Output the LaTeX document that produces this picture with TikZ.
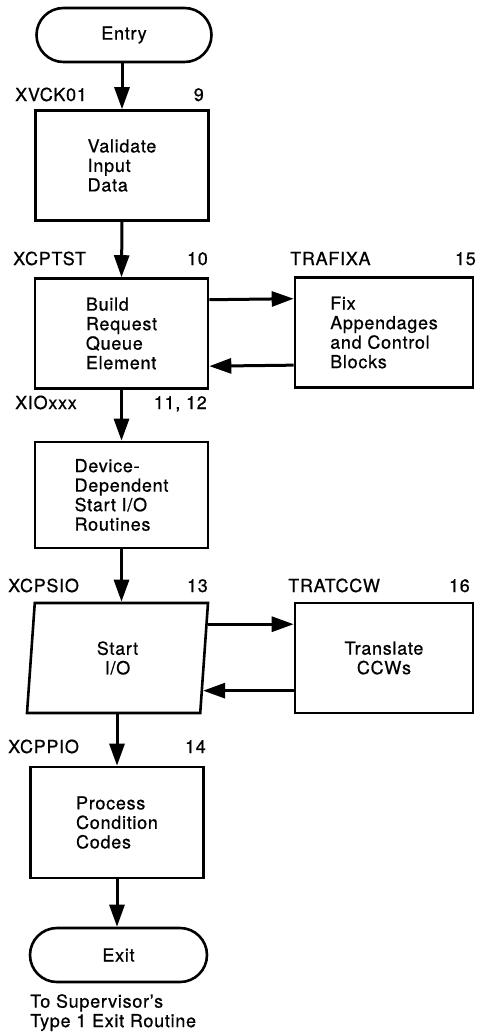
\documentclass[tikz,border=0pt]{standalone}
\usepackage{fontspec}
\setmainfont{TeX Gyre Heros}[LetterSpace=4,FakeBold=0.7]
\usetikzlibrary{arrows.meta,shapes.geometric,calc}
\tikzset{
  testo/.style={font=\fontsize{18}{19.5}\selectfont},
  blocco/.style={testo,draw,line width=2.6pt,align=left,minimum width=173pt,minimum height=110pt},
  term/.style={testo,draw,line width=2.6pt,rounded corners=27pt,minimum width=175pt,minimum height=54pt},
  lbl/.style={testo,inner sep=0pt},
  flow/.style={line width=3pt,-{Triangle[length=22pt,width=15pt]}}
}
\begin{document}
\begin{tikzpicture}[x=1pt,y=-1pt]
    \useasboundingbox (0,0) rectangle (477,1033);
    %terminale entry
    \node[term] (entry) at (124,35) {Entry};
    %blocco validate
    \node[blocco] (validate) at (122,165.5) {Validate\\Input\\Data};
    \node[lbl,anchor=base west] (nxvck) at (15,101) {XVCK01};
    \node[lbl,anchor=base east] (pxvck) at (204,101) {9};
    %%%%%%%%%%%%%%%%%%%%%%%%%%%%%%%%%%%%%%%%%%%%%%%%%%%%%%%%%%%%%%%%%%%%%%%%%%
    %blocco build
    \node[blocco] (build) at (121.5,333.5) {Build\\Request\\Queue\\Element};
    \node[lbl,anchor=base west] (nxcptst) at (13,265) {XCPTST};
    \node[lbl,anchor=base east] (pxcptst) at (208,265) {10};
    %blocco fix
    \node[blocco,minimum width=178pt] (fixa) at (384,332.5) {Fix\\Appendages\\and Control\\Blocks};
    \node[lbl,anchor=base west] (ntrafixa) at (290,265) {TRAFIXA};
    \node[lbl,anchor=base east] (ptrafixa) at (476,265) {15};
    %%%%%%%%%%%%%%%%%%%%%%%%%%%%%%%%%%%%%%%%%%%%%%%%%%%%%%%%%%%%%%%%%%%%%%%%%%
    %blocco device
    \node[blocco,minimum height=106pt] (device) at (121.5,495) {Device-\\Dependent\\Start I/O\\Routines};
    \node[lbl,anchor=base west] (nxio) at (15,409) {XIOxxx};
    \node[lbl,anchor=base east] (pxio) at (207,409) {11, 12};
    %%%%%%%%%%%%%%%%%%%%%%%%%%%%%%%%%%%%%%%%%%%%%%%%%%%%%%%%%%%%%%%%%%%%%%%%%%
    %parallelogramma start i/o
    \node[blocco,trapezium,trapezium left angle=79,trapezium right angle=101,
      trapezium stretches body,minimum width=181pt,align=center] (startio) at (117.5,658) {Start\\I/O};
    \node[lbl,anchor=base west] (nxcpsio) at (8,592) {XCPSIO};
    \node[lbl,anchor=base east] (pxcpsio) at (208,592) {13};
    %blocco translate
    \node[blocco,minimum width=178pt,align=center] (tratccw) at (384,658) {Translate\\CCWs};
    \node[lbl,anchor=base west] (ntratccw) at (288,592) {TRATCCW};
    \node[lbl,anchor=base east] (ptratccw) at (470,592) {16};
    %%%%%%%%%%%%%%%%%%%%%%%%%%%%%%%%%%%%%%%%%%%%%%%%%%%%%%%%%%%%%%%%%%%%%%%%%%
    %blocco process
    \node[blocco,minimum height=111pt] (process) at (117,822.5) {Process\\Condition\\Codes};
    \node[lbl,anchor=base west] (nxcppio) at (8,753) {XCPPIO};
    \node[lbl,anchor=base east] (pxcppio) at (206,753) {14};
    %terminale exit
    \node[term,minimum width=177pt] (exit) at (118.5,955) {Exit};
    \node[lbl,anchor=north west,align=left] (nota) at (30,994) {To Supervisor's\\Type 1 Exit Routine};
    %%%%%%%%%%%%%%%%%%%%%%%%%%%%%%%%%%%%%%%%%%%%%%%%%%%%%%%%%%%%%%%%%%%%%%%%%%
    %frecce
    \draw[flow] (entry.south -| validate) -- (validate.north);
    \draw[flow] (validate.south) -- (build.north);
    \draw[flow] (build.south) -- (device.north);
    \draw[flow] (device.south) -- (device.south |- startio.north);
    \draw[flow] (process.north |- startio.south) -- (process.north);
    \draw[flow] (process.south) -- (process.south |- exit.north);
    %frecce laterali
    \draw[flow] ($(build.north east)!0.2!(build.south east)$) -- ($(fixa.north west)!0.2!(fixa.south west)$);
    \draw[flow] ($(fixa.north west)!0.79!(fixa.south west)$) -- ($(build.north east)!0.79!(build.south east)$);
    \draw[flow] ($(startio.top right corner)!0.2!(startio.bottom right corner)$) -- ($(tratccw.north west)!0.2!(tratccw.south west)$);
    \draw[flow] ($(tratccw.north west)!0.79!(tratccw.south west)$) -- ($(startio.top right corner)!0.79!(startio.bottom right corner)$);
\end{tikzpicture}
\end{document}
